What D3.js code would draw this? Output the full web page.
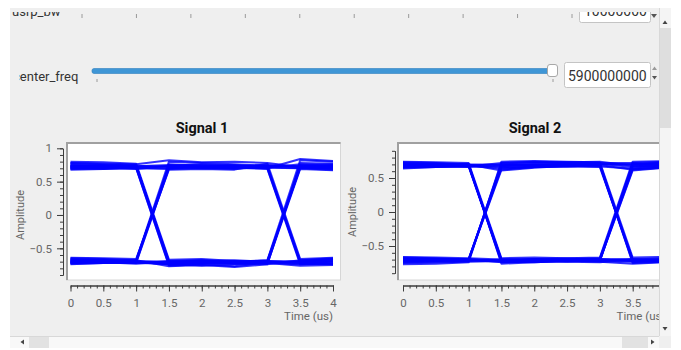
<!DOCTYPE html>
<html>
<head>
<meta charset="utf-8">
<script src="https://cdn.jsdelivr.net/npm/d3@7"></script>
<style>
  html, body { margin: 0; padding: 0; background: #ffffff; }
  svg { display: block; font-family: Roboto, "DejaVu Sans", sans-serif; }
</style>
</head>
<body>
<svg id="gui" width="681" height="350"></svg>
<script>
// Sample instants of each eye trace (microseconds)
const sampleTimes = [0, 0.5, 1, 1.5, 2, 2.5, 3, 3.5, 4];

// Time axis labels
const timeTicks = [0, 0.5, 1, 1.5, 2, 2.5, 3, 3.5, 4];

// Amplitude axis labels
const ampTicks1 = [1, 0.5, 0, -0.5];
const ampTicks2 = [0.5, 0, -0.5];

// Eye traces, Signal 1 (one row per symbol window)
const signal1Traces = [
  [0.74, 0.73, 0.72, 0.73, 0.72, 0.73, 0.74, 0.73, 0.72],
  [0.70, 0.71, 0.73, 0.75, 0.72, 0.70, 0.71, 0.76, 0.74],
  [0.78, 0.77, 0.76, 0.82, 0.79, 0.80, 0.78, 0.72, 0.70],
  [0.68, 0.69, 0.70, 0.69, 0.70, 0.71, 0.70, 0.84, 0.81],
  [0.72, 0.74, 0.71, 0.70, 0.72, 0.74, 0.72, -0.72, -0.70],
  [0.76, 0.75, 0.74, 0.72, 0.70, 0.69, 0.73, -0.68, -0.66],
  [0.73, 0.72, 0.74, -0.71, -0.70, -0.72, -0.70, 0.74, 0.73],
  [0.69, 0.70, 0.71, -0.75, -0.73, -0.70, -0.68, 0.71, 0.69],
  [0.78, 0.76, 0.74, -0.70, -0.68, -0.71, -0.69, -0.72, -0.70],
  [0.71, 0.72, 0.70, -0.76, -0.74, -0.77, -0.71, -0.69, -0.67],
  [0.74, 0.73, 0.75, -0.73, -0.71, -0.70, -0.72, -0.74, -0.73],
  [-0.66, -0.68, -0.70, 0.76, 0.74, 0.73, 0.75, 0.72, 0.70],
  [-0.70, -0.69, -0.68, 0.80, 0.78, 0.76, 0.74, 0.73, 0.75],
  [-0.70, -0.69, -0.68, 0.73, 0.71, 0.72, 0.70, -0.71, -0.69],
  [-0.72, -0.71, -0.72, 0.70, 0.72, 0.71, 0.69, -0.74, -0.72],
  [-0.67, -0.68, -0.69, 0.74, 0.75, 0.74, 0.73, -0.70, -0.74],
  [-0.72, -0.71, -0.69, -0.70, -0.72, -0.69, -0.70, 0.71, 0.74],
  [-0.68, -0.70, -0.71, -0.74, -0.76, -0.74, -0.71, 0.75, 0.76],
  [-0.71, -0.72, -0.70, -0.72, -0.70, -0.71, -0.68, 0.82, 0.80],
  [-0.68, -0.67, -0.70, -0.74, -0.71, -0.72, -0.69, -0.70, -0.66],
  [-0.73, -0.72, -0.71, -0.70, -0.69, -0.70, -0.71, -0.73, -0.74],
  [-0.65, -0.66, -0.68, -0.77, -0.75, -0.78, -0.74, -0.68, -0.65],
  [0.72, 0.71, 0.69, 0.74, 0.76, 0.75, 0.72, 0.70, 0.68],
  [-0.70, -0.71, -0.73, -0.69, -0.68, -0.70, -0.72, -0.76, -0.75],
  [0.75, 0.74, 0.73, -0.69, -0.71, -0.73, -0.74, 0.78, 0.77],
  [-0.74, -0.72, -0.71, 0.71, 0.73, 0.72, 0.71, 0.70, 0.72],
  [0.70, 0.69, 0.72, -0.72, -0.69, -0.68, -0.70, -0.71, -0.68],
  [-0.69, -0.70, -0.72, -0.73, -0.72, -0.73, -0.72, 0.72, 0.71],
  [0.80, 0.79, 0.77, -0.67, -0.66, -0.69, -0.73, 0.69, 0.67],
  [-0.64, -0.65, -0.66, 0.68, 0.69, 0.68, 0.77, -0.66, -0.64]
];

// Eye traces, Signal 2
const signal2Traces = [
  [0.70, 0.69, 0.68, 0.64, 0.66, 0.67, 0.69, 0.62, 0.66],
  [0.66, 0.67, 0.69, 0.70, 0.69, 0.68, 0.67, 0.64, 0.67],
  [0.72, 0.71, 0.70, 0.61, 0.65, 0.68, 0.71, 0.66, 0.70],
  [0.68, 0.69, 0.67, 0.72, 0.73, 0.72, 0.70, -0.70, -0.72],
  [0.64, 0.66, 0.68, 0.66, 0.67, 0.69, 0.68, -0.74, -0.71],
  [0.70, 0.68, 0.69, -0.72, -0.71, -0.70, -0.69, 0.64, 0.68],
  [0.73, 0.72, 0.70, -0.74, -0.73, -0.72, -0.71, 0.61, 0.65],
  [0.67, 0.68, 0.68, -0.71, -0.72, -0.73, -0.70, -0.69, -0.71],
  [0.69, 0.70, 0.71, -0.76, -0.74, -0.72, -0.70, -0.72, -0.74],
  [0.65, 0.66, 0.67, -0.73, -0.70, -0.71, -0.72, -0.73, -0.70],
  [-0.72, -0.71, -0.70, 0.70, 0.72, 0.73, 0.74, 0.68, 0.66],
  [-0.69, -0.70, -0.71, 0.66, 0.68, 0.69, 0.70, 0.70, 0.72],
  [-0.71, -0.72, -0.70, 0.68, 0.70, 0.71, 0.69, -0.72, -0.70],
  [-0.74, -0.73, -0.72, 0.72, 0.74, 0.73, 0.72, -0.75, -0.73],
  [-0.68, -0.69, -0.69, 0.64, 0.66, 0.67, 0.66, -0.70, -0.69],
  [-0.70, -0.71, -0.72, -0.70, -0.71, -0.70, -0.68, 0.67, 0.70],
  [-0.73, -0.72, -0.71, -0.73, -0.74, -0.72, -0.70, 0.70, 0.73],
  [-0.67, -0.68, -0.70, -0.71, -0.69, -0.70, -0.71, 0.63, 0.65],
  [-0.70, -0.71, -0.71, -0.72, -0.71, -0.72, -0.73, -0.76, -0.74],
  [-0.72, -0.70, -0.69, -0.74, -0.72, -0.71, -0.70, -0.72, -0.71],
  [-0.66, -0.67, -0.68, -0.70, -0.69, -0.68, -0.69, -0.71, -0.72],
  [0.68, 0.67, 0.66, 0.68, 0.69, 0.70, 0.71, 0.70, 0.69],
  [-0.75, -0.74, -0.73, -0.72, -0.70, -0.73, -0.74, -0.70, -0.68],
  [0.66, 0.67, 0.68, -0.70, -0.70, -0.71, -0.72, 0.70, 0.72],
  [-0.71, -0.70, -0.70, 0.62, 0.66, 0.68, 0.72, 0.72, 0.70],
  [-0.70, -0.69, -0.70, -0.72, -0.73, -0.71, -0.72, 0.72, 0.74],
  [0.71, 0.70, 0.69, -0.70, -0.71, -0.70, -0.71, -0.70, -0.72],
  [0.70, 0.71, 0.70, 0.69, 0.70, 0.71, 0.69, -0.71, -0.73],
  [0.74, 0.73, 0.72, -0.68, -0.67, -0.68, -0.67, 0.74, 0.75],
  [-0.77, -0.76, -0.74, 0.74, 0.75, 0.74, 0.73, -0.67, -0.66]
];

// Slider tick marks of the (scrolled-off) usrp_bw row
const bwSliderTicks = [0, 1, 2, 3, 4, 5, 6, 7, 8, 9];

const svg = d3.select("#gui");

// ---- scroll-area viewport ----
const view = { x: 10, y: 8, w: 649, h: 328 };
svg.append("rect").attr("x", 0).attr("y", 0).attr("width", 681).attr("height", 350).attr("fill", "#ffffff");
svg.append("rect").attr("x", view.x).attr("y", view.y).attr("width", view.w).attr("height", view.h).attr("fill", "#efefef");

const defs = svg.append("defs");
defs.append("clipPath").attr("id", "viewClip")
  .append("rect").attr("x", view.x).attr("y", view.y).attr("width", view.w).attr("height", view.h);
defs.append("clipPath").attr("id", "topRowClip")
  .append("rect").attr("x", view.x).attr("y", 12).attr("width", view.w).attr("height", 30);
defs.append("clipPath").attr("id", "labelClip")
  .append("rect").attr("x", 19).attr("y", 50).attr("width", 80).attr("height", 40);

const content = svg.append("g").attr("clip-path", "url(#viewClip)");

// ---- usrp_bw row (scrolled partly out of view) ----
const topRow = content.append("g").attr("clip-path", "url(#topRowClip)");
topRow.append("text").attr("x", 12).attr("y", 16).attr("font-size", 13).attr("fill", "#333")
  .text("usrp_bw");
const bwX = d3.scaleLinear().domain([0, 9]).range([82, 572]);
topRow.selectAll("line.bwtick").data(bwSliderTicks).join("line")
  .attr("x1", d => bwX(d)).attr("x2", d => bwX(d)).attr("y1", 14).attr("y2", 18)
  .attr("stroke", "#9a9a9a").attr("stroke-width", 1);
topRow.append("rect").attr("x", 579.5).attr("y", -6).attr("width", 71).attr("height", 28.5).attr("rx", 2)
  .attr("fill", "#ffffff").attr("stroke", "#c4c4c4");
topRow.append("text").attr("x", 584).attr("y", 16).attr("font-size", 14).attr("fill", "#333").text("10000000");
topRow.append("path").attr("d", "M651,14 h6 l-3,4 z").attr("fill", "#555");

// ---- center_freq row ----
content.append("g").attr("clip-path", "url(#labelClip)")
  .append("text").attr("x", 13).attr("y", 81).attr("font-size", 13).attr("fill", "#333")
  .text("center_freq");
content.append("rect").attr("x", 92).attr("y", 68.5).attr("width", 461).attr("height", 5).attr("rx", 2)
  .attr("fill", "#3f96d6").attr("stroke", "#2f7fbf").attr("stroke-width", 0.6);
content.append("rect").attr("x", 547.5).attr("y", 64.5).attr("width", 10).attr("height", 12).attr("rx", 2.5)
  .attr("fill", "#ffffff").attr("stroke", "#a8a8a8");
[97, 553].forEach(x => content.append("line").attr("x1", x).attr("x2", x).attr("y1", 79).attr("y2", 82)
  .attr("stroke", "#9a9a9a"));
content.append("rect").attr("x", 564.5).attr("y", 62.5).attr("width", 86).attr("height", 25).attr("rx", 2)
  .attr("fill", "#ffffff").attr("stroke", "#c4c4c4");
content.append("text").attr("x", 568).attr("y", 81).attr("font-size", 14).attr("fill", "#333").text("5900000000");
content.append("path").attr("d", "M652,70 h5 l-2.5,-3.5 z").attr("fill", "#999");
content.append("path").attr("d", "M652,76 h5 l-2.5,3.5 z").attr("fill", "#555");

// ---- eye-diagram plot builder ----
function drawEye(g, cfg) {
  const x = d3.scaleLinear().domain([0, 4]).range(cfg.xRange);
  const y = d3.scaleLinear().domain(cfg.yDomain).range(cfg.yRange);

  // title
  g.append("text").attr("x", cfg.titleX).attr("y", 133).attr("text-anchor", "middle")
    .attr("font-size", 14.5).attr("font-weight", "bold").attr("fill", "#111").text(cfg.title);

  // canvas with sunken frame
  const c = cfg.canvas;
  g.append("rect").attr("x", c.x).attr("y", c.y).attr("width", c.w).attr("height", c.h).attr("fill", "#ffffff")
    .attr("stroke", "#d6d6d6").attr("stroke-width", 1);
  g.append("path").attr("d", `M${c.x + 0.5},${c.y + c.h} V${c.y + 0.5} H${c.x + c.w}`)
    .attr("fill", "none").attr("stroke", "#a0a0a0").attr("stroke-width", 2);

  const clipId = cfg.id + "Canvas";
  defs.append("clipPath").attr("id", clipId)
    .append("rect").attr("x", c.x + 1.5).attr("y", c.y + 1.5).attr("width", c.w - 2).attr("height", c.h - 2);

  const line = d3.line().x((d, i) => x(sampleTimes[i])).y(d => y(d));
  g.append("g").attr("clip-path", `url(#${clipId})`)
    .selectAll("path").data(cfg.traces).join("path")
    .attr("d", line).attr("fill", "none")
    .attr("stroke", "#0000ff").attr("stroke-width", 2).attr("stroke-opacity", 0.8)
    .attr("stroke-linejoin", "round");

  // amplitude axis
  const yMinor = d3.range(Math.ceil(cfg.yDomain[0] * 10), Math.floor(cfg.yDomain[1] * 10) + 1).map(v => v / 10);
  const yAxisG = g.append("g").attr("transform", `translate(${cfg.yAxisX},0)`);
  yAxisG.call(d3.axisLeft(y).tickValues(yMinor).tickSize(3).tickSizeOuter(0).tickFormat(""));
  yAxisG.append("g").call(d3.axisLeft(y).tickValues(cfg.ampTicks).tickSize(6).tickSizeOuter(0)
    .tickPadding(5).tickFormat(d => d === 0 ? "0" : d3.format("")(d)));
  yAxisG.selectAll(".domain").attr("stroke", "#3c3c3c");
  yAxisG.selectAll("line").attr("stroke", "#3c3c3c");
  yAxisG.selectAll("text").attr("fill", "#666").attr("font-size", 11.5).attr("font-family", "Roboto, sans-serif");

  g.append("text").attr("transform", `translate(${cfg.ampLabelX},${y(0)}) rotate(-90)`)
    .attr("text-anchor", "middle").attr("font-size", 11).attr("fill", "#666").text("Amplitude");

  // time axis
  const xMinor = d3.range(0, 41).map(v => v / 10);
  const xAxisG = g.append("g").attr("transform", `translate(0,${cfg.xAxisY})`);
  xAxisG.call(d3.axisBottom(x).tickValues(xMinor).tickSize(3).tickSizeOuter(0).tickFormat(""));
  xAxisG.append("g").call(d3.axisBottom(x).tickValues(timeTicks).tickSize(6).tickSizeOuter(0)
    .tickPadding(7).tickFormat(d3.format("")));
  xAxisG.selectAll(".domain").attr("stroke", "#3c3c3c");
  xAxisG.selectAll("line").attr("stroke", "#3c3c3c");
  xAxisG.selectAll("text").attr("fill", "#666").attr("font-size", 11.5).attr("font-family", "Roboto, sans-serif");

  g.append("text").attr("x", x(4)).attr("y", 320).attr("text-anchor", "end")
    .attr("font-size", 11.5).attr("fill", "#666").text("Time (us)");
}

drawEye(content.append("g"), {
  id: "sig1", title: "Signal 1", titleX: 202,
  traces: signal1Traces, ampTicks: ampTicks1,
  xRange: [70.5, 333], yDomain: [-0.9, 1.0], yRange: [275, 148.3],
  canvas: { x: 66.5, y: 142.5, w: 274, h: 137.5 },
  yAxisX: 63, xAxisY: 285.5, ampLabelX: 24
});

drawEye(content.append("g"), {
  id: "sig2", title: "Signal 2", titleX: 535,
  traces: signal2Traces, ampTicks: ampTicks2,
  xRange: [403, 665.5], yDomain: [-0.9, 0.9], yRange: [273.2, 150.8],
  canvas: { x: 397.5, y: 142.5, w: 274, h: 137.5 },
  yAxisX: 395, xAxisY: 285.5, ampLabelX: 356
});

// ---- scroll bars ----
// vertical
svg.append("rect").attr("x", 659).attr("y", 8).attr("width", 12).attr("height", 328).attr("fill", "#f4f4f4");
svg.append("line").attr("x1", 659.5).attr("x2", 659.5).attr("y1", 8).attr("y2", 336).attr("stroke", "#d8d8d8");
svg.append("rect").attr("x", 660).attr("y", 28).attr("width", 11).attr("height", 100).attr("fill", "#dedede");
svg.append("path").attr("d", "M662.5,24 h5 l-2.5,-3.5 z").attr("fill", "#444");
svg.append("path").attr("d", "M662.5,327 h5 l-2.5,3.5 z").attr("fill", "#444");
// horizontal
svg.append("rect").attr("x", 10).attr("y", 336).attr("width", 649).attr("height", 12).attr("fill", "#f8f8f8");
svg.append("line").attr("x1", 10).attr("x2", 659).attr("y1", 336.5).attr("y2", 336.5).attr("stroke", "#d8d8d8");
svg.append("rect").attr("x", 29).attr("y", 337).attr("width", 20).attr("height", 11).attr("fill", "#e2e2e2");
svg.append("rect").attr("x", 622).attr("y", 337).attr("width", 26).attr("height", 11).attr("fill", "#e2e2e2");
svg.append("path").attr("d", "M24,339.5 v5 l-3.5,-2.5 z").attr("fill", "#444");
svg.append("path").attr("d", "M651,339.5 v5 l3.5,-2.5 z").attr("fill", "#444");
svg.append("rect").attr("x", 659).attr("y", 336).attr("width", 12).attr("height", 12).attr("fill", "#efefef");
</script>
</body>
</html>
